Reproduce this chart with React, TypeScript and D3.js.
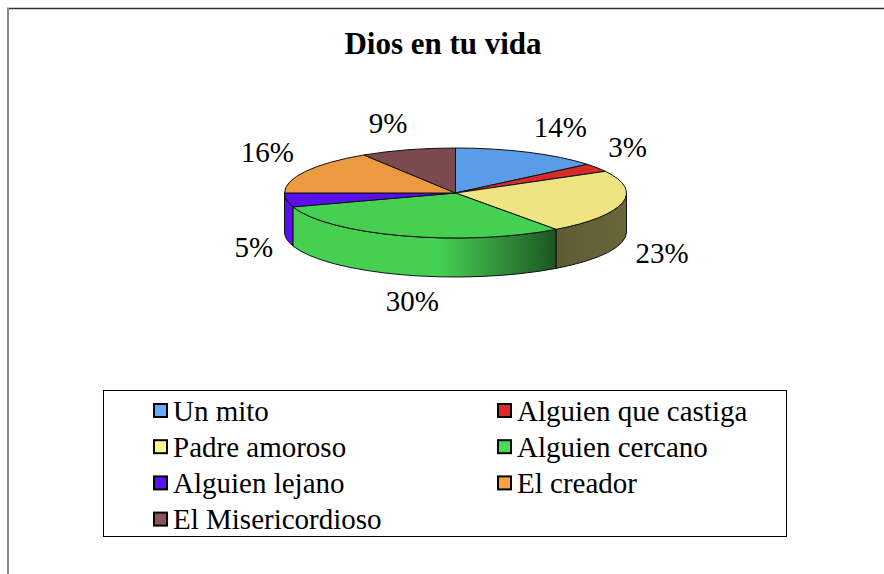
import React from "react";
import * as d3 from "d3";

const categories = [
  "Un mito",
  "Alguien que castiga",
  "Padre amoroso",
  "Alguien cercano",
  "Alguien lejano",
  "El creador",
  "El Misericordioso",
];
const values = [14, 3, 23, 30, 5, 16, 9];
const colors = ["#5A9CE8", "#D62B2B", "#EEE482", "#46D052", "#5A0FEF", "#EC9A3F", "#7B4A4E"];
const legendColors = ["#66AAF8", "#E02828", "#FFF68E", "#48DC55", "#5A0FF5", "#FFA040", "#8A5458"];
const title = "Dios en tu vida";

const W = 884;
const H = 574;
const cx = 455.5;
const cy = 193;
const rx = 171;
const ry = 45;
const depth = 39;
const labelNudgeX = [0, 0, 0, 38, 0, 0, 0];

const FONT = "Liberation Serif, Times New Roman, DejaVu Serif, serif";

function pt(a: number, dy = 0): [number, number] {
  return [cx + rx * Math.sin(a), cy - ry * Math.cos(a) + dy];
}

function shade(c: string, f: number) {
  const r = d3.rgb(c);
  return d3.rgb(r.r * f, r.g * f, r.b * f).formatHex();
}

export default function App() {
  const total = d3.sum(values);
  const angle = d3.scaleLinear().domain([0, total]).range([0, 2 * Math.PI]);
  const cum = d3.cumsum(values);
  const slices = values.map((v, i) => {
    const a1 = angle(cum[i]);
    const a0 = angle(cum[i] - v);
    return { i, v, a0, a1 };
  });

  const tops = slices.map((s) => {
    const p0 = pt(s.a0);
    const p1 = pt(s.a1);
    const large = s.a1 - s.a0 > Math.PI ? 1 : 0;
    return `M${cx},${cy}L${p0[0]},${p0[1]}A${rx},${ry} 0 ${large} 1 ${p1[0]},${p1[1]}Z`;
  });

  const walls = slices.map((s) => {
    const s0 = Math.max(s.a0, Math.PI / 2);
    const s1 = Math.min(s.a1, (3 * Math.PI) / 2);
    if (s0 >= s1) return null;
    const p0 = pt(s0);
    const p1 = pt(s1);
    const q1 = pt(s1, depth);
    const q0 = pt(s0, depth);
    return `M${p0[0]},${p0[1]}A${rx},${ry} 0 0 1 ${p1[0]},${p1[1]}L${q1[0]},${q1[1]}A${rx},${ry} 0 0 0 ${q0[0]},${q0[1]}Z`;
  });

  const labels = slices.map((s) => {
    const m = (s.a0 + s.a1) / 2;
    const ux = Math.sin(m);
    const uy = -Math.cos(m);
    const front = uy > 0;
    const [ax, ay] = pt(m, front ? depth : 0);
    const txt = `${s.v}%`;
    const hw = txt.length === 3 ? 26 : 19;
    const hh = 13;
    const g = 14;
    const sgn = (v: number) => Math.max(-1, Math.min(1, v * 3));
    return {
      txt,
      x: ax + ux * g + hw * sgn(ux) + labelNudgeX[s.i],
      y: ay + uy * g + hh * sgn(uy),
    };
  });

  const stops = [
    [0, 1],
    [0.45, 1],
    [0.8, 0.4],
    [1, 0.45],
  ];

  const legX = [153, 497];
  const legY0 = 410.5;
  const legDy = 36.2;

  const serif = { fontFamily: FONT } as React.CSSProperties;

  return (
    <svg
      width={W}
      height={H}
      style={{ position: "absolute", left: 0, top: 0, background: "#fff" }}
    >
      <defs>
        {colors.map((c, i) => (
          <linearGradient
            key={i}
            id={`wall${i}`}
            gradientUnits="userSpaceOnUse"
            x1={cx - rx}
            y1={0}
            x2={cx + rx}
            y2={0}
          >
            {stops.map(([o, f], j) => (
              <stop key={j} offset={o} stopColor={shade(c, f)} />
            ))}
          </linearGradient>
        ))}
      </defs>
      <rect x={0} y={0} width={W} height={H} fill="#fff" />
      <line x1={7} y1={8.5} x2={W} y2={8.5} stroke="#333" strokeWidth={1.5} />
      <line x1={8} y1={8} x2={8} y2={H} stroke="#888" strokeWidth={2} />

      <text
        x={443}
        y={54}
        textAnchor="middle"
        style={serif}
        fontWeight="bold"
        fontSize={31}
        fill="#000"
      >
        {title}
      </text>

      {walls.map((d, i) =>
        d ? (
          <path key={`w${i}`} d={d} fill={`url(#wall${i})`} stroke="#111" strokeWidth={1} strokeLinejoin="round" />
        ) : null
      )}
      {tops.map((d, i) => (
        <path key={`t${i}`} d={d} fill={colors[i]} stroke="#111" strokeWidth={1} strokeLinejoin="round" />
      ))}

      {labels.map((l, i) => (
        <text
          key={`l${i}`}
          x={l.x}
          y={l.y}
          textAnchor="middle"
          dominantBaseline="central"
          style={serif}
          fontSize={29}
          fill="#000"
        >
          {l.txt}
        </text>
      ))}

      <rect x={103.5} y={390.5} width={683} height={146} fill="none" stroke="#000" strokeWidth={1} />
      {categories.map((c, i) => {
        const col = i % 2;
        const row = Math.floor(i / 2);
        const y = legY0 + row * legDy;
        return (
          <g key={`g${i}`}>
            <rect
              x={legX[col] + 1}
              y={y - 6.5}
              width={13}
              height={13}
              fill={legendColors[i]}
              stroke="#000"
              strokeWidth={2}
            />
            <text x={legX[col] + 20} y={y + 10} style={serif} fontSize={29} fill="#000">
              {c}
            </text>
          </g>
        );
      })}
    </svg>
  );
}
